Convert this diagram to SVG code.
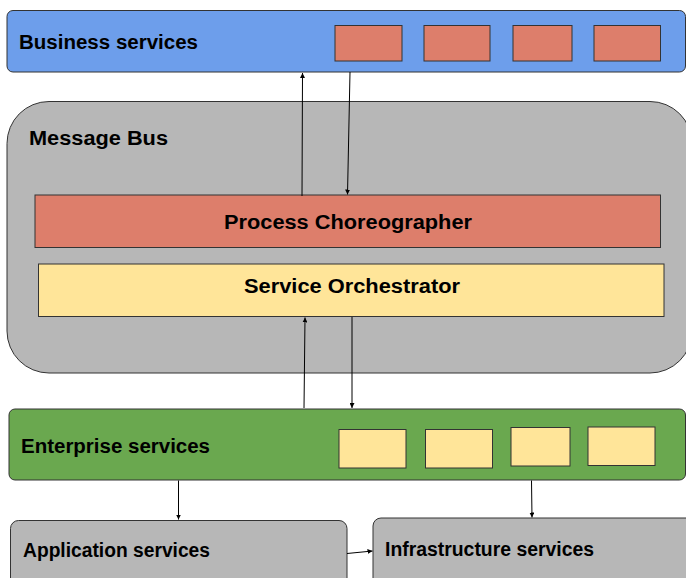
<svg xmlns="http://www.w3.org/2000/svg" width="686" height="578" viewBox="0 0 686 578">
<defs>
<style>
.lbl{font-family:"Liberation Sans",Arial,sans-serif;font-weight:bold;font-size:20px;fill:#000}
.bx{stroke:#333;stroke-width:1}
.cn{stroke:#000;stroke-width:1;fill:none;marker-end:url(#ah)}
</style>
<marker id="ah" viewBox="0 0 10 10" refX="10" refY="5" markerWidth="5" markerHeight="5" orient="auto" markerUnits="userSpaceOnUse">
<path d="M0,0 L10,5 L0,10 z" fill="#000"/>
</marker>
</defs>
<rect width="686" height="578" fill="#fff"/>
<g id="business">
<rect class="bx" x="7" y="10.5" width="678.5" height="61.5" rx="6" fill="#6d9eeb"/>
<text class="lbl" x="19" y="49" textLength="179" lengthAdjust="spacingAndGlyphs">Business services</text>
<rect class="bx" x="335" y="25.5" width="67" height="35.5" fill="#dd7e6b"/>
<rect class="bx" x="424" y="25.5" width="66" height="35.5" fill="#dd7e6b"/>
<rect class="bx" x="513" y="25.5" width="59" height="35.5" fill="#dd7e6b"/>
<rect class="bx" x="594" y="25.5" width="66.5" height="35.5" fill="#dd7e6b"/>
</g>
<g id="messagebus">
<rect class="bx" x="7" y="101.5" width="685" height="271.5" rx="42" fill="#b7b7b7"/>
<text class="lbl" x="29" y="145" textLength="139" lengthAdjust="spacingAndGlyphs">Message Bus</text>
</g>
<g id="choreographer">
<rect class="bx" x="35" y="195" width="625.5" height="52.5" fill="#dd7e6b"/>
<text class="lbl" x="224" y="229" textLength="248" lengthAdjust="spacingAndGlyphs">Process Choreographer</text>
</g>
<g id="orchestrator">
<rect class="bx" x="38.5" y="264" width="625.5" height="52.5" fill="#ffe599"/>
<text class="lbl" x="244" y="293" textLength="216" lengthAdjust="spacingAndGlyphs">Service Orchestrator</text>
</g>
<g id="enterprise">
<rect class="bx" x="9" y="409" width="676.5" height="71" rx="6" fill="#6aa84f"/>
<text class="lbl" x="21" y="452.5" textLength="189" lengthAdjust="spacingAndGlyphs">Enterprise services</text>
<rect class="bx" x="339" y="429.5" width="67" height="38.5" fill="#ffe599"/>
<rect class="bx" x="425.5" y="429.5" width="67" height="38.5" fill="#ffe599"/>
<rect class="bx" x="511" y="427.5" width="59" height="38.5" fill="#ffe599"/>
<rect class="bx" x="588" y="427" width="67" height="38.5" fill="#ffe599"/>
</g>
<g id="application">
<rect class="bx" x="10.5" y="520.5" width="336.5" height="80" rx="8" fill="#b7b7b7"/>
<text class="lbl" x="23" y="557" textLength="187" lengthAdjust="spacingAndGlyphs">Application services</text>
</g>
<g id="infrastructure">
<rect class="bx" x="373" y="518" width="340" height="80" rx="8" fill="#b7b7b7"/>
<text class="lbl" x="385" y="556" textLength="209" lengthAdjust="spacingAndGlyphs">Infrastructure services</text>
</g>
<g id="connectors">
<path class="cn" d="M302,196 L302.5,73"/>
<path class="cn" d="M350,72 L347.5,194.5"/>
<path class="cn" d="M304,408 L305,317.5"/>
<path class="cn" d="M352,317 L352,408"/>
<path class="cn" d="M178.5,480.5 L178.5,519.5"/>
<path class="cn" d="M531.5,480.5 L532,517.5"/>
<path class="cn" d="M347,553.5 L372.5,551"/>
</g>
</svg>
